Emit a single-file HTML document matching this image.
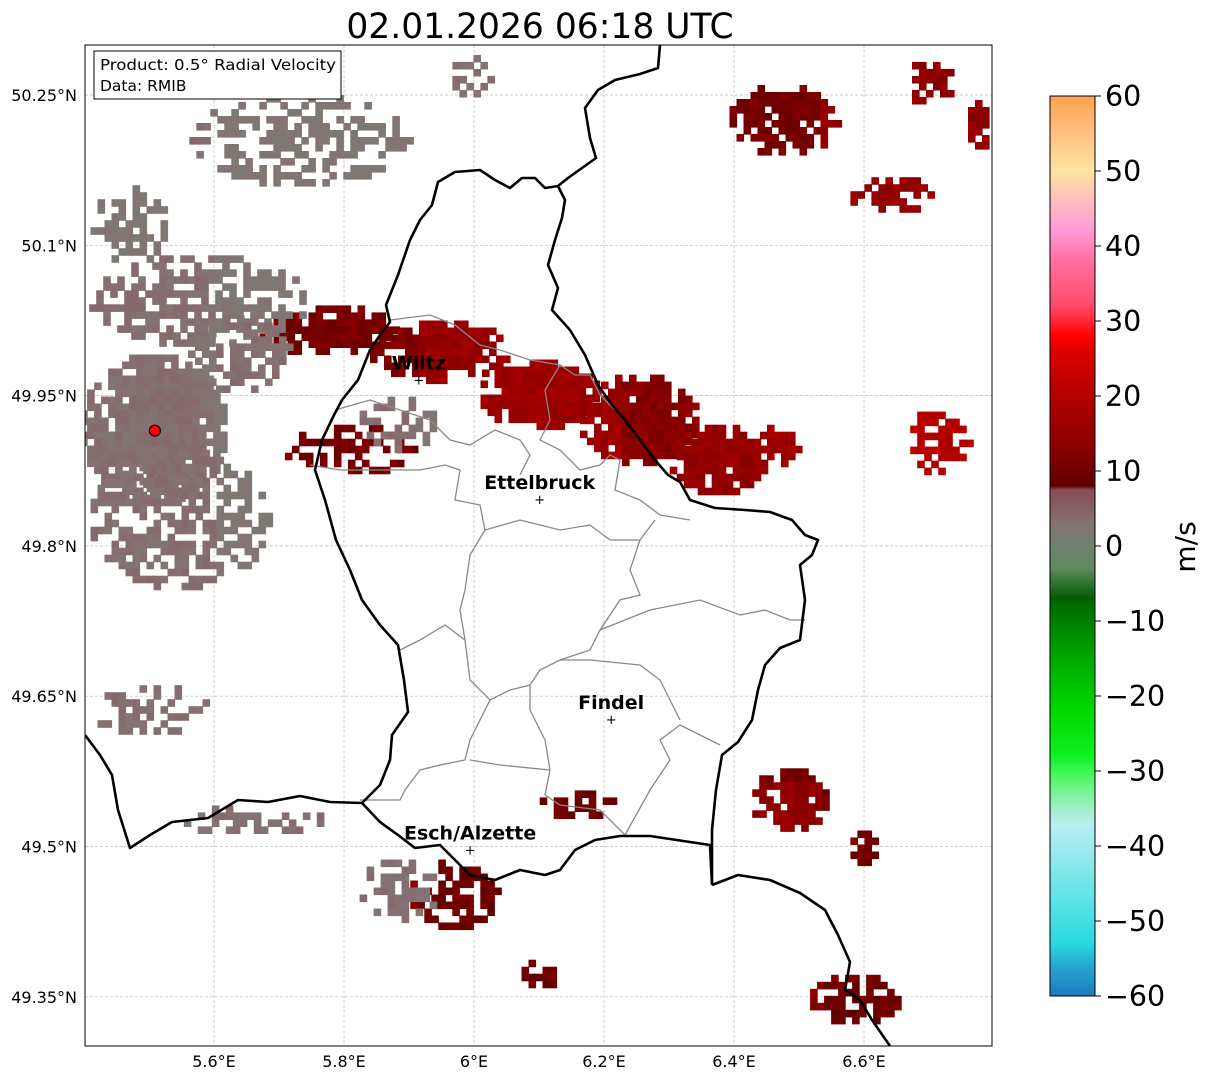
<!DOCTYPE html>
<html><head><meta charset="utf-8">
<style>
body{margin:0;background:#fff;}
svg{display:block;font-family:"DejaVu Sans","Liberation Sans",sans-serif;}
</style></head>
<body>
<svg id="chart" width="1207" height="1081" viewBox="0 0 1207 1081">
<defs>
<clipPath id="mapclip"><rect x="85" y="45" width="907" height="1001"/></clipPath>
<linearGradient id="cbgrad" x1="0" y1="1" x2="0" y2="0"></linearGradient>
</defs>
<text x="540" y="38" text-anchor="middle" font-size="34.5" fill="#000">02.01.2026 06:18 UTC</text>
<g id="grid"></g>
<g id="echoes" clip-path="url(#mapclip)"></g>
<g clip-path="url(#mapclip)">
<path fill="none" stroke="#888" stroke-width="1.3" d="M 390 320 L 430 315 L 455 325 L 480 345 L 500 350 L 530 360 L 560 365 L 575 375 L 590 375 L 600 395 L 615 410 M 335 410 L 370 400 L 400 410 L 430 420 L 450 440 L 470 445 L 495 430 L 520 440 L 530 455 L 520 475 M 560 365 L 545 390 L 550 420 L 540 440 L 560 450 L 580 470 L 600 465 L 610 455 L 620 460 L 615 490 L 640 500 L 660 515 L 690 520 M 310 465 L 340 470 L 380 470 L 420 470 L 445 465 L 460 470 L 455 500 L 480 505 L 485 530 L 470 555 L 465 590 L 460 610 L 465 640 L 445 625 L 420 640 L 400 650 M 485 530 L 520 520 L 560 530 L 590 525 L 610 540 L 640 540 L 655 520 M 640 540 L 630 570 L 640 595 L 620 600 L 600 630 L 590 650 L 560 660 L 540 670 L 530 685 L 510 690 L 490 700 L 470 680 L 465 640 M 600 630 L 650 610 L 700 600 L 740 615 L 765 610 L 790 620 L 805 620 M 530 685 L 530 710 L 545 740 L 550 770 L 545 795 L 560 805 L 600 810 L 620 830 L 625 835 M 490 700 L 480 720 L 470 740 L 465 760 L 440 765 L 420 770 L 405 790 L 400 800 L 360 800 M 550 770 L 500 765 L 470 760 M 625 835 L 650 790 L 670 760 L 660 740 L 680 725 L 700 735 L 720 745 M 560 660 L 590 660 L 640 665 L 660 680 L 680 720"/>
<path fill="none" stroke="#000" stroke-width="2.6" stroke-linejoin="round" d="M 410 240 L 420 220 L 432 205 L 438 182 L 455 172 L 480 170 L 495 180 L 510 188 L 522 178 L 535 178 L 545 188 L 558 186 L 565 200 L 562 218 L 555 240 L 548 265 L 558 288 L 552 310 L 570 330 L 585 355 L 598 385 L 612 405 L 625 420 L 640 440 L 655 460 L 668 475 L 680 482 L 690 500 L 715 508 L 745 510 L 770 512 L 792 520 L 805 535 L 818 540 L 812 555 L 800 565 L 805 600 L 800 640 L 780 648 L 765 665 L 758 690 L 752 720 L 738 742 L 722 755 L 716 790 L 712 830 L 712 885 M 712 885 L 710 845 L 690 842 L 650 836 L 620 836 L 595 840 L 575 850 L 560 870 L 545 875 L 520 870 L 495 880 L 470 875 L 455 860 L 440 845 L 415 848 L 398 835 L 380 822 L 362 803 L 380 785 L 390 760 L 392 735 L 408 712 L 404 680 L 398 645 L 380 625 L 362 600 L 350 570 L 336 540 L 325 500 L 315 470 L 322 440 L 334 415 L 342 400 L 358 380 L 370 350 L 380 335 L 390 322 L 386 305 L 398 275 L 410 240 M 85 735 L 100 755 L 112 775 L 118 810 L 130 848 L 150 835 L 172 822 L 208 818 L 238 800 L 268 802 L 300 796 L 330 802 L 362 803 M 660 45 L 658 68 L 640 74 L 615 80 L 598 90 L 585 108 L 590 138 L 596 158 L 582 168 L 568 178 L 558 186 M 712 885 L 738 875 L 770 880 L 800 893 L 825 910 L 838 935 L 850 962 L 845 990 L 860 1000 L 872 1020 L 890 1046"/>
</g>
<rect x="85" y="45" width="907" height="1001" fill="none" stroke="#000" stroke-width="1"/>
<circle id="radarsite" r="5.5" fill="#ff0000" stroke="#000" stroke-width="1.2"/>
<g id="cities" font-weight="bold" font-size="19"></g>
<g id="axes" font-size="16"></g>
<g>
<rect x="94" y="51" width="247" height="48" fill="#fff" stroke="#000" stroke-width="1"/>
<text x="100" y="70" font-size="15.5" textLength="236" lengthAdjust="spacingAndGlyphs">Product: 0.5° Radial Velocity</text>
<text x="100" y="91" font-size="15.5">Data: RMIB</text>
</g>
<g id="colorbar">
<rect x="1050" y="96" width="45" height="900" fill="url(#cbgrad)" stroke="#000" stroke-width="1"/>
</g>
<text transform="translate(1195,547) rotate(-90)" text-anchor="middle" font-size="28">m/s</text>
</svg>
<script>
const lonTicks=[5.6,5.8,6.0,6.2,6.4,6.6];
const lonLabels=["5.6°E","5.8°E","6°E","6.2°E","6.4°E","6.6°E"];
const latTicks=[50.25,50.1,49.95,49.8,49.65,49.5,49.35];
const latLabels=["50.25°N","50.1°N","49.95°N","49.8°N","49.65°N","49.5°N","49.35°N"];
const cbTicks=[60,50,40,30,20,10,0,-10,-20,-30,-40,-50,-60];
const cbLabels=["60","50","40","30","20","10","0","\u221210","\u221220","\u221230","\u221240","\u221250","\u221260"];
const cmapValues=[-60,-56,-53,-48,-40,-37,-34,-31,-28,-22,-15,-7.5,-7,-3,0,3,7.5,8,14,22,26,28,32,38,42,46,50,55,60];
const cmapColors=["#1f78c0","#25a8d0","#2ad8de","#55e2e6","#a0eaee","#b8eef0","#90f0b0","#50f868","#10f020","#00d800","#00a800","#006800","#005c00","#5e8a5e","#708070","#857373","#884a55","#600000","#900000","#c00000","#e00000","#ff0000","#ff4a68","#ff70a0","#ff9ad8","#ffbcc0","#ffe4a0","#ffc080","#ffa050"];
const cities=["Wiltz","Ettelbruck","Findel","Esch/Alzette"];
const cityLon=[5.915,6.101,6.211,5.994];
const cityLat=[49.966,49.847,49.627,49.497];
const radarLon=5.509, radarLat=49.915;
// echo clusters: centre lon/lat, radius lon/lat (deg), velocity (m/s)
const echoLon=[5.778,5.948,6.102,6.255,6.378,6.471,5.809,6.478,6.701,6.648,6.778,6.717,6.486,6.602,6.586,6.163,5.971,6.101,5.509,5.732,5.578,5.548,5.502,5.655,5.886,5.994,5.886,5.640,5.470];
const echoLat=[50.015,49.995,49.951,49.926,49.886,49.901,49.896,50.225,50.265,50.150,50.220,49.906,49.546,49.498,49.347,49.541,49.452,49.372,49.916,50.205,50.045,49.826,49.636,49.526,49.457,50.270,49.926,49.990,50.120];
const echoRx=[0.108,0.108,0.092,0.092,0.077,0.031,0.100,0.085,0.038,0.069,0.018,0.046,0.058,0.023,0.069,0.062,0.069,0.028,0.115,0.170,0.170,0.138,0.092,0.123,0.062,0.038,0.062,0.080,0.060];
const echoRy=[0.025,0.030,0.035,0.045,0.035,0.020,0.025,0.035,0.025,0.018,0.025,0.035,0.032,0.018,0.025,0.015,0.035,0.015,0.075,0.045,0.045,0.070,0.025,0.015,0.030,0.020,0.030,0.040,0.040];
const echoV=[14,15,16,16,18,20,14,14,14,15,14,20,14,14,13,13,13,13,3.5,3.5,3.5,3.5,3.5,3.5,3.5,3.5,3.5,3.5,3.5];
const echoDensity=[0.85,0.9,0.9,0.9,0.85,0.8,0.6,0.7,0.7,0.6,0.7,0.55,0.8,0.8,0.6,0.6,0.6,0.6,0.9,0.55,0.6,0.55,0.5,0.45,0.55,0.5,0.45,0.6,0.45];

const X=lon=>85+(lon-5.4015)*650;
const Y=lat=>95+(50.25-lat)*1002;
const CB=v=>996-(v+60)*7.5;
const NS="http://www.w3.org/2000/svg";
function mk(t,a){const e=document.createElementNS(NS,t);for(const k in a)e.setAttribute(k,a[k]);return e;}
function hex(c){return [parseInt(c.slice(1,3),16),parseInt(c.slice(3,5),16),parseInt(c.slice(5,7),16)];}
function colorFor(v){
  if(v<=cmapValues[0])return cmapColors[0];
  for(let i=1;i<cmapValues.length;i++){if(v<=cmapValues[i]){const t=(v-cmapValues[i-1])/(cmapValues[i]-cmapValues[i-1]);const a=hex(cmapColors[i-1]),b=hex(cmapColors[i]);return "rgb("+a.map((x,k)=>Math.round(x+(b[k]-x)*t)).join(",")+")";}}
  return cmapColors[cmapColors.length-1];
}
const grad=document.getElementById('cbgrad');
cmapValues.forEach((v,i)=>{grad.appendChild(mk('stop',{offset:((v+60)/120).toFixed(4),'stop-color':cmapColors[i]}));});
const cb=document.getElementById('colorbar');
cbTicks.forEach((v,i)=>{
  const l=mk('line',{x1:1095,x2:1101,y1:CB(v),y2:CB(v),stroke:'#000'});
  
  
  cb.appendChild(l);
  const t=mk('text',{x:1105,y:CB(v)+10,'font-size':28.5});
  
  
  t.textContent=cbLabels[i];cb.appendChild(t);
});
const g=document.getElementById('grid'),ax=document.getElementById('axes');
lonTicks.forEach((v,i)=>{
  const l=mk('line',{x1:X(v),x2:X(v),y1:45,y2:1046,stroke:'#bbb','stroke-width':0.7,'stroke-dasharray':'3,2'});
  
  
  g.appendChild(l);
  const t=mk('text',{x:X(v),y:1067,'text-anchor':'middle'});
  
  
  t.textContent=lonLabels[i];ax.appendChild(t);
});
latTicks.forEach((v,i)=>{
  const l=mk('line',{x1:85,x2:992,y1:Y(v),y2:Y(v),stroke:'#bbb','stroke-width':0.7,'stroke-dasharray':'3,2'});
  
  
  g.appendChild(l);
  const t=mk('text',{x:77,y:Y(v)+6,'text-anchor':'end'});
  
  
  t.textContent=latLabels[i];ax.appendChild(t);
});
const eg=document.getElementById('echoes');
const cell=7;
echoLon.forEach((lon,k)=>{
  const cx=X(lon),cy=Y(echoLat[k]),rx=echoRx[k]*650,ry=echoRy[k]*1002;
  const spread=echoV[k]<6?0.3:0.8;
  const grp=mk('g',{});
  
  
  for(let x=cx-rx;x<cx+rx;x+=cell){for(let y=cy-ry;y<cy+ry;y+=cell){
    const dx=(x+cell/2-cx)/rx,dy=(y+cell/2-cy)/ry;const d=dx*dx+dy*dy;
    if(d>1)continue;
    const h=((Math.floor(x/cell)*73856093)^(Math.floor(y/cell)*19349663)^(k*83492791))>>>0;
    const p=(h%1000)/1000;
    if(p>echoDensity[k]*(1.15-0.4*d))continue;
    const vv=echoV[k]+((h>>10)%5-2)*spread;
    grp.appendChild(mk('rect',{x:x.toFixed(1),y:y.toFixed(1),width:cell+0.6,height:cell+0.6,fill:colorFor(vv)}));
  }}
  eg.appendChild(grp);
});
const rs=document.getElementById('radarsite');rs.setAttribute('cx',X(radarLon));rs.setAttribute('cy',Y(radarLat));
const cg=document.getElementById('cities');
cities.forEach((n,i)=>{
  const x=X(cityLon[i]),y=Y(cityLat[i]);
  const p=mk('text',{x:x,y:y+5,'text-anchor':'middle','font-size':13,'font-weight':'normal'});
  
  
  p.textContent='+';cg.appendChild(p);
  const t=mk('text',{x:x,y:y-10,'text-anchor':'middle'});
  
  
  t.textContent=n;cg.appendChild(t);
});
</script>
</body></html>
